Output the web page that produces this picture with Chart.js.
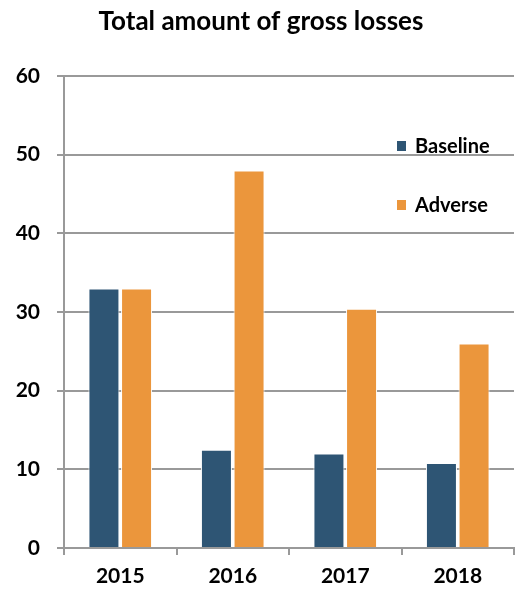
<!DOCTYPE html>
<html>
<head>
<meta charset="utf-8">
<script src="https://cdn.jsdelivr.net/npm/chart.js@4.4.0/dist/chart.umd.min.js"></script>
<style>
  html, body { margin: 0; padding: 0; background: #fff; }
  #wrap { width: 516px; height: 590px; position: relative; }
</style>
</head>
<body>
<div id="wrap"><canvas id="myChart"></canvas></div>
<script>
const years = ['2015', '2016', '2017', '2018'];
const baseline = [33, 12.5, 12, 10.8];
const adverse = [33, 48, 30.4, 26];
const seriesNames = ['Baseline', 'Adverse'];
const chartTitle = 'Total amount of gross losses';

const FONT = 'Lato, "Open Sans", sans-serif';

// title + legend drawn by hand, the legend sits inside the plot
const overlay = {
  id: 'overlay',
  afterDraw(chart) {
    const c = chart.ctx;
    const a = chart.chartArea;
    c.save();
    c.fillStyle = '#000';
    c.font = 'bold 26px ' + FONT;
    c.textAlign = 'center';
    c.textBaseline = 'alphabetic';
    c.fillText(chartTitle, 261, 30);

    c.font = 'bold 20px ' + FONT;
    c.textAlign = 'left';
    c.textBaseline = 'middle';
    chart.data.datasets.forEach((ds, i) => {
      const y = a.top + 70 + i * 59;
      c.fillStyle = ds.backgroundColor;
      c.fillRect(397, y - 5, 9, 10);
      c.fillStyle = '#000';
      c.fillText(ds.label, 415, y + 1);
    });
    c.restore();
  }
};

const ctxt = document.getElementById('myChart').getContext('2d');
const myChart = new Chart(ctxt, {
  type: 'bar',
  data: {
    labels: years,
    datasets: [
      { label: seriesNames[0], data: baseline, backgroundColor: '#2E5574', borderColor: '#ffffff', borderWidth: 1 },
      { label: seriesNames[1], data: adverse, backgroundColor: '#EB963C', borderColor: '#ffffff', borderWidth: 1 }
    ]
  },
  options: {
    responsive: true,
    maintainAspectRatio: false,
    animation: false,
    layout: { padding: { top: 76, right: 2, left: 0, bottom: 0 } },
    plugins: { legend: { display: false }, title: { display: false }, tooltip: { enabled: false } },
    datasets: { bar: { categoryPercentage: 0.58, barPercentage: 0.95 } },
    scales: {
      x: {
        offset: true,
        grid: { display: true, drawOnChartArea: false, offset: true, color: '#999', lineWidth: 2, tickLength: 7 },
        border: { color: '#999', width: 2 },
        ticks: { color: '#000', font: { family: FONT, size: 21, weight: 'bold' }, padding: 9 },
        afterFit(s) { s.height = 42; }
      },
      y: {
        min: 0,
        max: 60,
        ticks: { stepSize: 10, color: '#000', font: { family: FONT, size: 21, weight: 'bold' }, padding: 17 },
        grid: { color: '#999', lineWidth: 2, tickLength: 7 },
        border: { color: '#999', width: 2 },
        afterFit(s) { s.width = 64; }
      }
    }
  },
  plugins: [overlay]
});
</script>
</body>
</html>
